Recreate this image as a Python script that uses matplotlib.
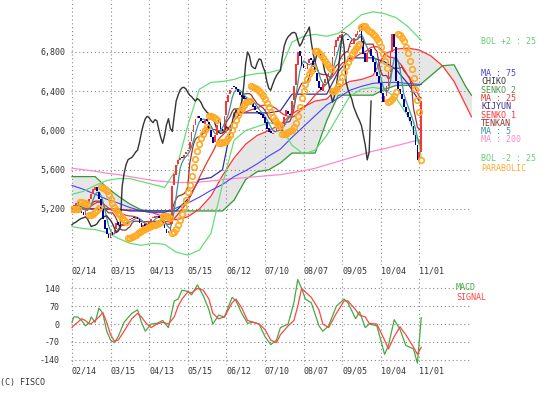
import numpy as np
import pandas as pd
import matplotlib
matplotlib.use('Agg')
import matplotlib.pyplot as plt

# date labels every 20 trading days
date_labels = ['02/14', '03/15', '04/13', '05/15', '06/12',
               '07/10', '08/07', '09/05', '10/04', '11/01']
date_days = [0, 20, 40, 60, 80, 100, 120, 140, 160, 180]

closes = [5200, 5240, 5260, 5250, 5200, 5160, 5140, 5180, 5250, 5300,
          5350, 5400, 5420, 5380, 5300, 5200, 5100, 5000, 4940, 4900,
          4960, 4930, 5000, 5060, 5040, 5030,
          5040, 5055, 5065, 5080, 5095, 5105, 5110, 5120, 5100, 5060,
          5020, 5030, 5035, 5050, 5080, 5100, 5110, 5125, 5130, 5105,
          5085, 5050, 5005, 4960, 4975, 5010, 5430, 5560, 5650, 5700,
          5715, 5725, 5750, 5780, 5800, 5880, 5980, 6060, 6120, 6145,
          6130, 6100, 6080, 6110, 6100, 6010, 5930, 5870, 5950, 6060,
          6120, 6020, 5990, 6150, 6300, 6360, 6410, 6435, 6440, 6425,
          6390, 6360, 6345, 6320, 6300, 6325, 6310, 6280, 6235, 6210,
          6185, 6170, 6160, 6130, 6080, 6020, 5980, 5970, 5975, 5990,
          6040, 6020, 6000, 6060, 6140, 6210, 6170, 6160, 6300, 6450,
          6680, 6800, 6760, 6660, 6640, 6630, 6690, 6730, 6720, 6650,
          6600, 6500, 6430, 6410, 6470, 6520, 6560, 6590, 6610, 6750,
          6860, 6920, 6955, 6975, 6995, 7000, 6990, 6920, 6860, 6890,
          6940, 6980, 7010, 7055, 6900, 6780, 6700, 6790, 6820, 6760,
          6700, 6600, 6560, 6480, 6380, 6290, 6350, 6450, 6600, 6800,
          6980, 6850, 6500, 6420, 6370, 6320, 6240, 6190, 6140, 6100,
          6050, 5950, 5850, 5700, 5780, 6300]
opens = [5230, 5200, 5240, 5270, 5250, 5200, 5170, 5140, 5190, 5250,
         5300, 5350, 5390, 5420, 5370, 5300, 5200, 5090, 5010, 4950,
         4900, 4970, 4940, 5000, 5070, 5040,
         5030, 5030, 5060, 5060, 5090, 5100, 5120, 5110, 5120, 5100,
         5060, 5020, 5040, 5030, 5050, 5080, 5110, 5110, 5120, 5130,
         5100, 5080, 5050, 5000, 4960, 4980, 5050, 5440, 5550, 5660,
         5700, 5730, 5720, 5760, 5790, 5810, 5890, 5980, 6060, 6130,
         6150, 6130, 6100, 6070, 6120, 6090, 6000, 5930, 5880, 5950,
         6070, 6120, 6020, 5990, 6160, 6290, 6370, 6420, 6450, 6440,
         6420, 6390, 6360, 6350, 6330, 6300, 6330, 6320, 6280, 6250,
         6200, 6190, 6180, 6170, 6140, 6090, 6030, 5990, 5960, 5980,
         5990, 6050, 6020, 5990, 6070, 6150, 6200, 6170, 6170, 6310,
         6460, 6670, 6810, 6760, 6680, 6630, 6630, 6690, 6740, 6710,
         6660, 6590, 6500, 6440, 6400, 6480, 6530, 6570, 6600, 6610,
         6760, 6850, 6910, 6940, 6990, 6990, 6980, 6930, 6850, 6880,
         6880, 6950, 6970, 7000, 7060, 6910, 6790, 6700, 6800, 6830,
         6760, 6700, 6600, 6560, 6480, 6380, 6290, 6350, 6450, 6600,
         6800, 6980, 6850, 6500, 6420, 6370, 6320, 6240, 6190, 6140,
         6100, 6050, 5950, 5850, 5700, 5780]

# slow indicators every 6 days
line_days = list(range(0, 181, 6)) + [181]
ma200 = [5615, 5600, 5585, 5565, 5550, 5530, 5510, 5490, 5480, 5470, 5470,
         5475, 5485, 5500, 5510, 5520, 5530, 5540, 5550, 5570, 5590, 5615,
         5650, 5685, 5720, 5755, 5790, 5815, 5845, 5875, 5905, 5910]
ma75 = [5440, 5400, 5350, 5300, 5260, 5215, 5180, 5165, 5165, 5210, 5260,
        5320, 5390, 5450, 5530, 5590, 5660, 5740, 5810, 5930, 6040, 6150,
        6260, 6330, 6410, 6450, 6480, 6490, 6490, 6480, 6470, 6470]
bol_up = [5350, 5380, 5440, 5490, 5510, 5510, 5480, 5450, 5420, 5600, 6050,
          6420, 6490, 6500, 6520, 6560, 6580, 6590, 6620, 6900, 6960, 6980,
          6960, 6990, 7080, 7180, 7210, 7190, 7150, 7060, 6940, 6920]
bol_dn = [5020, 5000, 4990, 4960, 4900, 4850, 4830, 4850, 4840, 4760, 4730,
          4780, 4950, 5450, 5900, 6000, 6040, 6080, 6050, 5850, 5760, 5800,
          5950, 6150, 6350, 6420, 6440, 6420, 6330, 6150, 5850, 5720]
kijun = [5200, 5200, 5200, 5200, 5200, 5180, 5180, 5180, 5180, 5180, 5300,
         5500, 5520, 5600, 6180, 6180, 6180, 6180, 6200, 6370, 6370, 6370,
         6370, 6600, 6740, 6740, 6740, 6700, 6620, 6480, 6300, 6280]

# cloud spans run 26 days ahead
cloud_days = list(range(0, 205, 6)) + [207]
senko1 = [5220, 5210, 5200, 5200, 5190, 5190, 5180, 5160, 5120, 5090, 5120,
          5200, 5330, 5540, 5720, 5860, 5950, 6000, 6060, 6170, 6240, 6300,
          6320, 6440, 6500, 6520, 6560, 6780, 6830, 6840, 6820, 6760, 6660,
          6500, 6260, 6140]
senko2 = [5530, 5530, 5530, 5420, 5330, 5250, 5190, 5180, 5180, 5180, 5180,
          5180, 5180, 5180, 5290, 5500, 5580, 5600, 5670, 5770, 5770, 5770,
          6100, 6360, 6360, 6360, 6360, 6420, 6460, 6460, 6460, 6560, 6660,
          6670, 6450, 6360]

# MACD panel
macd_days = [0, 1, 3, 5, 7, 9, 10, 12, 14, 16, 18, 20, 22, 24, 27, 31, 34,
             36, 38, 41, 44, 47, 50, 53, 55, 57, 60, 62, 65, 68, 71, 73, 76,
             79, 83, 85, 88, 91, 94, 97, 100, 103, 106, 108, 112, 115, 117,
             119, 121, 124, 128, 130, 133, 137, 141, 143, 147, 149, 152, 154,
             158, 162, 164, 167, 170, 173, 177, 179, 181]
macd = [7, 28, 28, 14, -7, 7, 28, 7, 63, 42, -28, -63, -73, -49, 7, 42, 56,
        7, -28, 0, 3, 14, -14, 91, 98, 133, 129, 115, 154, 112, 56, 0, 35,
        28, 105, 91, 42, 3, 7, 0, -49, -81, -63, -14, 0, 84, 175, 140, 98,
        84, -7, -28, -7, 70, 98, 84, 21, 49, -14, 0, -7, -119, -84, 17, -21,
        -84, -98, -154, 25]
signal = [-14, -5, 7, 21, 14, 0, 2, 14, 28, 45, 7, -42, -67, -63, -28, 21,
          42, 28, 7, -14, 0, 7, 0, 28, 70, 98, 126, 123, 140, 133, 98, 42,
          21, 28, 84, 98, 63, 14, 7, 0, -21, -63, -73, -42, -7, 14, 70, 140,
          126, 105, 56, 0, -14, 42, 91, 91, 56, 35, 28, 3, 0, -63, -98, -49,
          -11, -42, -91, -119, -91]


def parabolic_sar(hi, lo, af0=0.02, step=0.02, afmax=0.2):
    n = len(hi)
    sar = np.zeros(n)
    up = True
    af = af0
    ep = hi[0]
    sar[0] = lo[0]
    for i in range(1, n):
        s = sar[i - 1] + af * (ep - sar[i - 1])
        if up:
            s = min(s, lo[i - 1], lo[max(i - 2, 0)])
            if lo[i] < s:
                up, s, ep, af = False, ep, lo[i], af0
            elif hi[i] > ep:
                ep = hi[i]
                af = min(af + step, afmax)
        else:
            s = max(s, hi[i - 1], hi[max(i - 2, 0)])
            if hi[i] > s:
                up, s, ep, af = True, ep, hi[i], af0
            elif lo[i] < ep:
                ep = lo[i]
                af = min(af + step, afmax)
        sar[i] = s
    return sar


days = np.arange(len(closes))
c = pd.Series(closes, dtype=float)
o = pd.Series(opens, dtype=float)
hi = np.maximum(c, o)
lo = np.minimum(c, o)
ma5 = c.rolling(5, min_periods=1).mean()
ma25 = c.rolling(25, min_periods=1).mean()
tenkan = (hi.rolling(9, min_periods=1).max() + lo.rolling(9, min_periods=1).min()) / 2
sar = parabolic_sar(hi.values, lo.values)

W, H = 555, 397
fig = plt.figure(figsize=(W / 100, H / 100), dpi=100)


def px_axes(left, top, right, bottom):
    return fig.add_axes([left / W, 1 - bottom / H, (right - left) / W, (bottom - top) / H])


ax = px_axes(71, 0, 472, 265)
axm = px_axes(71, 276, 472, 365)

grid_kw = dict(color='#888888', lw=0.8, linestyle=(0, (1, 2.5)), zorder=1)
font = dict(family='DejaVu Sans Mono', fontsize=6)

for a in (ax, axm):
    a.set_xlim(-0.5, 207.3)
    for s in a.spines.values():
        s.set_visible(False)
    a.tick_params(length=0)
    a.set_xticks([])
    for d in date_days:
        a.axvline(d, **grid_kw)
    for d, lab in zip(date_days, date_labels):
        a.text(d, -6 / (265 if a is ax else 89), lab, transform=a.get_xaxis_transform(),
               ha='left', va='center', color='#333333', **font)

# main panel
ax.set_ylim(4629, 7330)
yt = [5200, 5600, 6000, 6400, 6800]
ax.set_yticks(yt)
ax.set_yticklabels([f'{v:,}' for v in yt], color='#333333', **font)
ax.tick_params(axis='y', pad=4)
for v in yt:
    ax.axhline(v, **grid_kw)

ax.fill_between(cloud_days, senko1, senko2, color='#e6e6e6', lw=0, zorder=0.5)
ax.plot(cloud_days, senko2, color='#339933', lw=0.9, zorder=2)
ax.plot(cloud_days, senko1, color='#ff3333', lw=0.9, zorder=2)
ax.plot(line_days, ma200, color='#ff88cc', lw=0.9, zorder=2)
ax.plot(line_days, ma75, color='#4444ff', lw=0.8, zorder=2)
ax.plot(line_days, bol_up, color='#66dd77', lw=0.9, zorder=2)
ax.plot(line_days, bol_dn, color='#66dd77', lw=0.9, zorder=2)
ax.plot(line_days, kijun, color='#333399', lw=0.9, zorder=2)
ax.plot(days, tenkan, color='#993333', lw=0.9, zorder=2)
ax.plot(days, ma25, color='#ee3333', lw=0.9, zorder=2)
ax.plot(days, ma5, color='#339999', lw=0.9, zorder=2)
# chikou span: close shifted back 26 days
ax.plot(days[26:] - 26, closes[26:], color='#333333', lw=1.0, zorder=3)

body = np.maximum((c - o).abs(), 12)
up = (c >= o).values
ax.bar(days[up], body[up], bottom=lo[up], width=0.9, color='#ff3333', lw=0, zorder=4)
ax.bar(days[~up], body[~up], bottom=c[~up] - (body[~up] - (o - c)[~up]) / 2, width=0.9,
       color='#000099', lw=0, zorder=4)

ax.plot(days, sar, 'o', ms=4, mfc='none', mec='#ffaa22', mew=1.2, zorder=5)

# MACD panel
axm.set_ylim(-161, 189)
mt = [140, 70, 0, -70, -140]
axm.set_yticks(mt)
axm.set_yticklabels([str(v) for v in mt], color='#333333', **font)
axm.tick_params(axis='y', pad=8)
for v in mt:
    axm.axhline(v, **grid_kw)
axm.plot(macd_days, macd, color='#44aa44', lw=0.9, zorder=3)
axm.plot(macd_days, signal, color='#ff4444', lw=0.9, zorder=3)

# legend texts on the right (the original stacks some of them tightly)
legend = [
    ('BOL +2 : 25', '#66cc77', 42),
    ('MA : 75', '#4444dd', 74),
    ('CHIKO', '#333333', 82),
    ('SENKO 2', '#449944', 90.5),
    ('MA : 25', '#ee3333', 98.5),
    ('KIJYUN', '#333399', 106.5),
    ('SENKO 1', '#ff3333', 115),
    ('TENKAN', '#993333', 123.5),
    ('MA : 5', '#339999', 131),
    ('MA : 200', '#ff88cc', 139.5),
    ('BOL -2 : 25', '#66cc77', 158.5),
    ('PARABOLIC', '#ffaa33', 168.5),
]
for txt, col, y in legend:
    fig.text(481 / W, 1 - y / H, txt, color=col, ha='left', va='center', **font)

fig.text(456 / W, 1 - 288 / H, 'MACD', color='#44aa44', ha='left', va='center', **font)
fig.text(456 / W, 1 - 297 / H, 'SIGNAL', color='#ff4444', ha='left', va='center', **font)
fig.text(0, 1 - 383 / H, '(C) FISCO', color='#333333', ha='left', va='center', **font)

fig.savefig('out.png', dpi=100)
